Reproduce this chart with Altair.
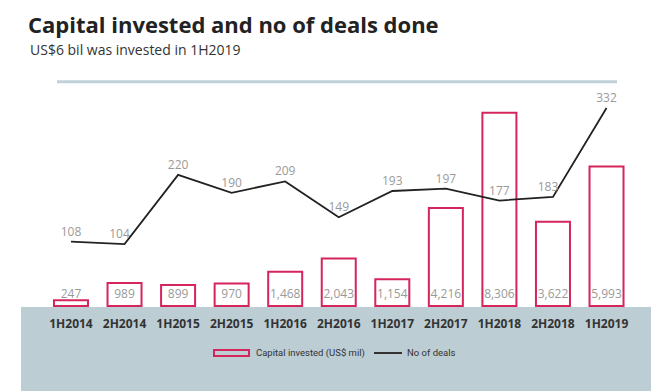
import altair as alt
import pandas as pd

periods = ["1H2014", "2H2014", "1H2015", "2H2015", "1H2016", "2H2016",
           "1H2017", "2H2017", "1H2018", "2H2018", "1H2019"]
capital = [247, 989, 899, 970, 1468, 2043, 1154, 4216, 8306, 3622, 5993]
deals = [108, 104, 220, 190, 209, 149, 193, 197, 177, 183, 332]

title_text = "Capital invested and no of deals done"
subtitle_text = "US$6 bil was invested in 1H2019"
legend_bar = "Capital invested (US$ mil)"
legend_line = "No of deals"

df = pd.DataFrame({"period": periods, "capital": capital, "deals": deals})
# labels placed left of the point where the line climbs steeply afterwards
rise = df["deals"].shift(-1) - df["deals"]
df["steep"] = rise.fillna(0) > 100
dummy = pd.DataFrame({"a": [0]})

CRIMSON = "#d6245c"
PANEL = "#bccdd4"
FONT = "Open Sans"
NARROW = "Roboto"

xscale = alt.Scale(domain=periods, range=[36.2, 625.3], paddingInner=0.365, paddingOuter=0.1825)
x_enc = alt.X("period:N", sort=periods, scale=xscale, axis=None)
ycap = alt.Scale(domain=[0, 10000], range=[298, 65.3])
ydeal = alt.Scale(domain=[0, 400], range=[298.2, 59.4])

H = 383

panel = alt.Chart(dummy).mark_rect(color=PANEL).encode(
    x=alt.value(13), x2=alt.value(643), y=alt.value(299), y2=alt.value(H))

topline = alt.Chart(dummy).mark_rule(color="#bfd2d9", strokeWidth=3).encode(
    x=alt.value(49), x2=alt.value(609), y=alt.value(73.7))

title = alt.Chart(dummy).mark_text(
    text=title_text, font=FONT, fontWeight="bold", fontSize=22, color="#222222",
    align="left", baseline="alphabetic").encode(x=alt.value(20), y=alt.value(25))

subtitle = alt.Chart(dummy).mark_text(
    text=subtitle_text, font=FONT, fontSize=14, color="#333333",
    align="left", baseline="alphabetic").encode(x=alt.value(22), y=alt.value(47))

bars = alt.Chart(df).mark_bar(fill="white", stroke=CRIMSON, strokeWidth=2).encode(
    x=x_enc, y=alt.Y("capital:Q", scale=ycap, axis=None))

bar_labels = alt.Chart(df).mark_text(
    font=FONT, fontSize=12, color="#9a9a9a", baseline="alphabetic").encode(
    x=x_enc, y=alt.value(290), text=alt.Text("capital:Q", format=","))

line = alt.Chart(df).mark_line(color="#222222", strokeWidth=1.8).encode(
    x=x_enc, y=alt.Y("deals:Q", scale=ydeal, axis=None))

deal_labels = alt.Chart(df).transform_filter("!datum.steep").mark_text(
    font=FONT, fontSize=12, color="#9a9a9a", baseline="alphabetic", dy=-6).encode(
    x=x_enc, y=alt.Y("deals:Q", scale=ydeal, axis=None), text="deals:Q")

deal_labels_left = alt.Chart(df).transform_filter("datum.steep").mark_text(
    font=FONT, fontSize=12, color="#9a9a9a", baseline="alphabetic", dy=-6, dx=-5).encode(
    x=x_enc, y=alt.Y("deals:Q", scale=ydeal, axis=None), text="deals:Q")

x_labels = alt.Chart(df).mark_text(
    font=FONT, fontSize=12, fontWeight="bold", color="#333333", baseline="middle").encode(
    x=x_enc, y=alt.value(316), text="period:N")

leg_rect = alt.Chart(dummy).mark_rect(fill="white", fillOpacity=0, stroke=CRIMSON, strokeWidth=2).encode(
    x=alt.value(206), x2=alt.value(241), y=alt.value(342), y2=alt.value(348))
leg_text1 = alt.Chart(dummy).mark_text(
    text=legend_bar, font=NARROW, fontSize=9.5, color="#333333", align="left", baseline="middle").encode(
    x=alt.value(248), y=alt.value(345))
leg_rule = alt.Chart(dummy).mark_rule(color="#333333", strokeWidth=2).encode(
    x=alt.value(366), x2=alt.value(394), y=alt.value(345))
leg_text2 = alt.Chart(dummy).mark_text(
    text=legend_line, font=NARROW, fontSize=9.5, color="#333333", align="left", baseline="middle").encode(
    x=alt.value(399), y=alt.value(345))

chart = alt.layer(
    panel, topline, title, subtitle, bars, bar_labels, line, deal_labels, deal_labels_left,
    x_labels, leg_rect, leg_text1, leg_rule, leg_text2
).resolve_scale(y="independent").properties(
    width=643, height=H, padding=0, background="white"
).configure_view(stroke=None)

chart.save("out.html", embed_options={"renderer": "svg", "actions": False})
